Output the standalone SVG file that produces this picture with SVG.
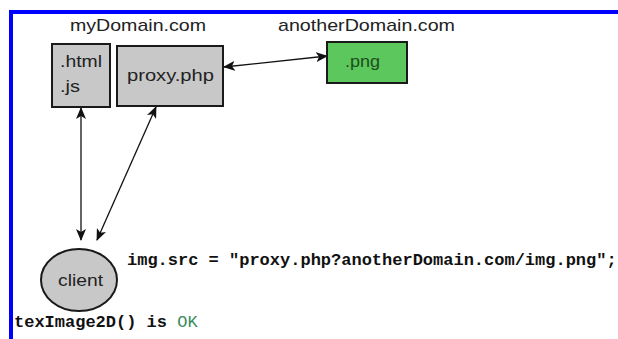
<svg xmlns="http://www.w3.org/2000/svg" width="618" height="339" viewBox="0 0 618 339">
  <style>
    .box { fill: #c8c8c8; stroke: #1a1a1a; stroke-width: 2; }
    .png { fill: #5cc75c; stroke: #1a1a1a; stroke-width: 2; }
    .label { font-family: "Liberation Sans", Arial, sans-serif; font-size: 17px; fill: #222; }
    .code { font-family: "Liberation Mono", "Courier New", monospace; font-weight: bold; font-size: 17px; fill: #111; }
    .edge { stroke: #111; stroke-width: 1.3; fill: none; marker-start: url(#head); marker-end: url(#head); }
  </style>
  <defs>
    <marker id="head" viewBox="0 0 12 10" refX="11" refY="5" markerWidth="12" markerHeight="10" markerUnits="userSpaceOnUse" orient="auto-start-reverse">
      <path d="M0,0 L12,5 L0,10 L3,5 Z" fill="#111"/>
    </marker>
  </defs>

  <rect width="618" height="339" fill="#ffffff"/>
  <!-- frame -->
  <rect x="9" y="10" width="609" height="4" fill="#0000ff"/>
  <rect x="9" y="10" width="4" height="329" fill="#0000ff"/>

  <text class="label" x="70" y="31" textLength="136" lengthAdjust="spacingAndGlyphs">myDomain.com</text>
  <text class="label" x="278" y="31" textLength="177" lengthAdjust="spacingAndGlyphs">anotherDomain.com</text>

  <g id="connectors">
    <line class="edge" x1="81" y1="108" x2="81" y2="240"/>
    <line class="edge" x1="156" y1="107" x2="97" y2="240"/>
    <line class="edge" x1="224" y1="67" x2="327" y2="56"/>
  </g>

  <g id="html">
    <rect class="box" x="52" y="44" width="58" height="63"/>
    <text class="label" x="60" y="67" textLength="42" lengthAdjust="spacingAndGlyphs">.html</text>
    <text class="label" x="60" y="92" textLength="20" lengthAdjust="spacingAndGlyphs">.js</text>
  </g>

  <g id="proxy">
    <rect class="box" x="117" y="46" width="106" height="60"/>
    <text class="label" x="127" y="81" textLength="87" lengthAdjust="spacingAndGlyphs">proxy.php</text>
  </g>

  <g id="png">
    <rect class="png" x="327" y="42" width="80" height="41"/>
    <text class="label" x="345" y="67" textLength="35" lengthAdjust="spacingAndGlyphs" style="fill:#1d4f1d">.png</text>
  </g>

  <g id="client">
    <ellipse class="box" cx="79" cy="280" rx="38" ry="31"/>
    <text class="label" x="58" y="286" textLength="45" lengthAdjust="spacingAndGlyphs">client</text>
  </g>

  <text class="code" x="127" y="265">img.src = "proxy.php?anotherDomain.com/img.png";</text>
  <text class="code" x="14" y="327">texImage2D() is <tspan style="font-weight:normal;fill:#3a8a5a">OK</tspan></text>
</svg>
